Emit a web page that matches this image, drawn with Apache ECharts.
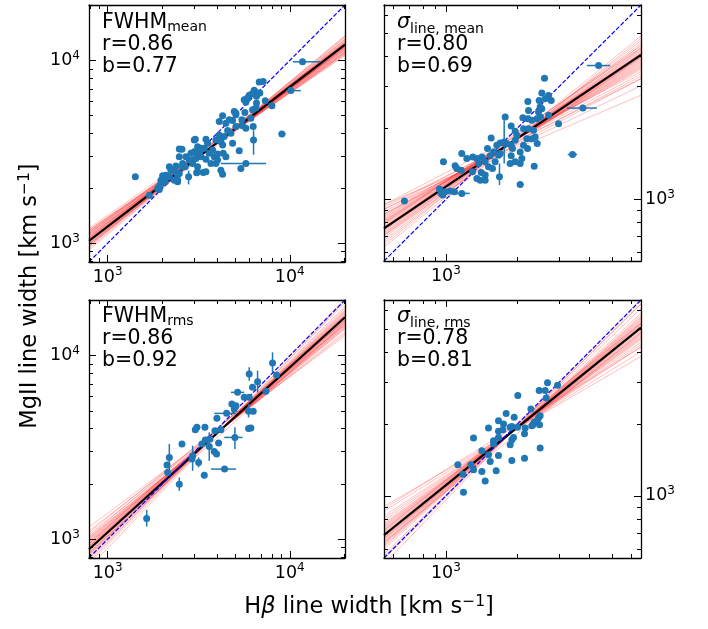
<!DOCTYPE html>
<html><head><meta charset="utf-8">
<script src="https://cdn.jsdelivr.net/npm/echarts@6.0.0/dist/echarts.min.js"></script>
<style>html,body{margin:0;padding:0;background:#fff}#c{width:708px;height:629px}</style>
</head><body><div id="c"></div><script>
const FONT = 'DejaVu Sans';
// axis ranges and ticks
const fwhmRange = [790, 20100];
const sigmaRange = [550, 6600];
const fwhmMajor = [1000, 10000];
const fwhmMinor = [800, 900, 2000, 3000, 4000, 5000, 6000, 7000, 8000, 9000, 20000];
const sigmaMajor = [1000];
const sigmaMinor = [600, 700, 800, 900, 2000, 3000, 4000, 5000, 6000];

// panel labels
const panelMain = ['FWHM', 'σ', 'FWHM', 'σ'];
const panelSub = ['mean', 'line, mean', 'rms', 'line, rms'];
const rValues = ['0.86', '0.80', '0.86', '0.78'];
const bValues = ['0.77', '0.69', '0.92', '0.81'];

// ---- FWHM mean (Hb x, MgII y)
const fwhmMeanHb = [11745,10136,9046,6794,7145,6378,5988,6194,6568,5622,5863,7976,7328,6851,6246,6514,5670,4955,5061,4277,
 4853,4460,6115,6299,5741,5505,6325,5061,4556,4753,4368,4100,3930,4187,4277,4853,3465,3539,3028,2474,
 2559,2867,2990,3184,3252,3393,3054,2807,2691,2928,2474,2580,2668,3769,3614,3849,4014,3691,4313,4460,
 5278,5741,5390,3930,4187,4277,3350,3080,2783,2474,2422,2323,2227,2181,2090,2004,1963,2073,1938,1905,
 1921,1694,1419,2371,2351,3118,3211,4100,4653,5061,5460,6655,5741,6568,2990,3252,4014,3465,2867,3118,
 3465,3118,2580,2422,2090,2004,1882,2181,2422];
const fwhmMeanMg = [9831,6838,3965,7629,7661,6866,6444,6554,6363,6100,6229,5653,6024,6637,5375,5489,5196,5262,5044,4981,
 4695,4539,4836,4351,4260,4388,3676,4351,4137,3999,3832,3915,3676,3598,3450,3524,3708,3524,3708,3278,
 3264,3103,3170,3170,2975,3306,2913,2852,2975,2734,2975,2734,2621,3237,3103,2975,3077,2734,3103,2975,
 3209,2734,2566,2734,2512,2389,2439,2429,2309,2409,2168,2213,2512,2621,2309,2339,2213,2168,2078,2017,
 1967,1830,2309,2643,2460,3377,3039,4636,4735,5152,4735,6637,5898,5848,3676,3306,2852,2877,2852,2621,
 2460,2460,2621,2359,2359,2261,1992,2309,2213];
const fwhmMeanXErr = [[10400,14800,9831],[9530,11500,6838],[8700,9500,3965],[4187,7400,2734],[2380,2580,3278]]; // [lo, hi, y]
const fwhmMeanYErr = [[6325,3050,4150],[5390,2460,2680],[2783,2100,2500]]; // [x, lo, hi]
const fwhmMeanFit = [1030, 12200];
const fwhmMeanSamples = [[918,13690],[939,13380],[961,13070],[984,12775],[1006,12480],[1054,11920],[1079,11650],[1104,11390],
 [1129,11130],[1156,10870],[1183,11130],[1210,11390],[1079,12480],[984,11920],[1129,12200],[1030,13070],[1104,11000],
 [961,13530],[1156,11650],[1183,10630],[1042,12040],[1018,12370],[1066,11720],[995,12620],
 [1066,11786],[995,12628],[1091,11518],[972,12922],[1117,11255],[1142,10999],[1030,12200],[1169,10748],[1054,12200],[1030,11920]];

// ---- sigma mean
const sigMeanHb = [4379,2596,2530,2700,2210,2466,2770,2225,2489,2530,2700,3763,2106,2210,2297,2412,2497,1775,2974,1881,
 2120,2225,2335,1955,1550,1691,1735,1881,1804,1955,1758,2419,2203,2086,2052,1955,1881,1863,1496,1298,
 1350,1417,1463,1372,1511,1570,1680,1408,1463,1350,1394,1463,1294,1167,1225,1094,1112,1160,977,940,
 955,993,1042,1087,1167,971,2052,2350,3405,670,1638,1586,1665,1987,2120,2297,2189,2372,1905,2052,
 1691,1611,1536,2614,2451];
const sigMeanMg = [3667,3245,2806,2744,2589,2614,2614,2373,2450,2412,2261,2427,2210,2189,2154,2189,2225,2225,2086,2039,
 1987,1987,1955,1937,1816,1730,1730,1691,1719,1775,1747,1719,1638,1487,1417,1440,1526,1417,1638,1511,
 1487,1511,1440,1417,1372,1350,1245,1299,1266,1225,1205,1205,1307,1561,1487,1385,1350,1328,1440,1106,
 1060,1077,1084,1077,1060,1043,1156,1381,1546,984,1691,1586,1535,1863,1691,1804,1804,1833,1638,1586,
 1561,1440,1526,2657,2335];
const sigMeanXErr = [[3912,4901,3667],[3223,4309,2427],[3250,3560,1546],[1195,1350,1487],[1112,1260,1060],[1990,2120,1156],[2520,2680,3245]];
const sigMeanYErr = [[1758,1417,2154],[1680,1150,1417]];
const sigMeanFit = [755, 4067];
const sigMeanSamples = [[628,4778],[658,4670],[673,4563],[689,4459],[705,4358],[721,4259],[738,4162],[773,3974],[791,3884],
 [809,3796],[828,3709],[847,3625],[867,3542],[908,3383],[950,3461],[887,3306],[643,4890],[755,4459],[809,4067],[705,3974],
 [791,4358],[929,3230],[950,2750],[908,3015],[867,3230],[764,4010],[746,4120],
 [782,3929],[729,4210],[800,3840],[713,4308],[818,3752],[837,3667],[755,4067],[857,3583],[764,4020],[746,4114]];

// ---- FWHM rms
const fwhmRmsHb = [8040,8458,5988,6655,6246,7393,5168,5622,5988,4812,5061,4955,4498,3981,5937,6299,5937,6115,4997,4187,
 3881,3421,3028,3092,3644,3436,3293,2928,2559,4066,3614,3848,3963,2903,3158,2181,2118,2135,3393,4385,2474,1638];
const fwhmRmsMg = [9125,7847,7947,7218,6722,6392,6312,5929,5929,5450,5339,5119,4848,4553,4971,4971,4016,4033,3585,3949,
 3899,4067,3949,4067,3511,3467,3298,2849,3298,3340,3203,3008,2909,2732,2620,2790,2534,2310,2234,2410,1995,1297];
const fwhmRmsXErr = [[4753,5622,6312],[3848,5061,4848],[4368,5505,3585],[3691,5061,2410]];
const fwhmRmsYErr = [[8040,8116,10430],[5988,7308,8642],[6655,6312,8285],[5937,4611,5450],[4997,3097,4067],[2928,2359,3231],
 [2559,3200,3400],[3614,2675,3819],[3158,2460,2790],[2181,2359,3298],[3393,2150,2330],[2474,1835,2170],[1638,1172,1446]];
const fwhmRmsFit = [882, 16190];
const fwhmRmsSamples = [[700,19920],[734,19465],[768,18590],[786,18165],[804,17750],[823,17350],[842,16950],[862,16570],
 [903,15820],[924,15460],[945,15110],[967,14765],[990,14430],[1013,14100],[1060,13470],[1110,13160],[1163,12860],
 [945,16570],[842,15110],[1036,15460],[751,20380],[1085,14765],[872,16380],[892,16000],[913,15640],
 [913,15640],[852,16760],[934,15290],[832,17140],[956,14940],[978,14600],[882,16190],[1001,14270],[813,17540],[1024,13940]];

// ---- sigma rms
const sigRmsHb = [2673,2945,2466,2614,2006,2639,2276,1792,1936,1664,1747,1893,1863,2000,2489,2451,2412,2350,2320,2474,
 2297,2154,1735,1664,1511,1307,1664,1586,1924,1893,2140,1863,1417,1586,2140,2489,1511,1664,1893,1536,
 1417,1274,1179,1307,1123,1463,1627,1186];
const sigRmsMg = [2972,2905,2759,2759,2629,2570,2311,2210,2133,2064,2000,1954,1936,1936,2167,2118,2064,2032,1987,1987,
 1967,1923,1893,1863,1923,1746,1757,1702,1757,1718,1821,1637,1545,1648,1439,1585,1486,1476,1407,1394,
 1265,1349,1233,1286,1349,1156,1273,1036];
const sigRmsXErr = [];
const sigRmsYErr = [[2140,1400,1480],[1893,1370,1445]];
const sigRmsFit = [686, 5055];
const sigRmsSamples = [[520,6664],[545,6364],[571,6078],[598,5804],[611,5672],[626,5543],[640,5416],[655,5293],[670,5173],
 [702,4940],[718,4828],[735,4718],[752,4610],[770,4506],[788,4403],[825,4205],[864,4015],[904,3835],[718,5293],
 [640,4828],[884,4205],[558,6364],[678,5110],[694,4998],[662,5230],
 [710,4884],[663,5232],[727,4773],[647,5353],[744,4663],[632,5476],[686,5055],[761,4558],[618,5603],[806,4303]];

const panels = [
  {hb: fwhmMeanHb, mg: fwhmMeanMg, xe: fwhmMeanXErr, ye: fwhmMeanYErr, fit: fwhmMeanFit, samples: fwhmMeanSamples,
   range: fwhmRange, major: fwhmMajor, minor: fwhmMinor, labelSide: 'left',
   grid: {left: 89, top: 5, width: 256, height: 257}, text: [102, 23]},
  {hb: sigMeanHb, mg: sigMeanMg, xe: sigMeanXErr, ye: sigMeanYErr, fit: sigMeanFit, samples: sigMeanSamples,
   range: sigmaRange, major: sigmaMajor, minor: sigmaMinor, labelSide: 'right',
   grid: {left: 384, top: 5, width: 257, height: 256}, text: [397, 23]},
  {hb: fwhmRmsHb, mg: fwhmRmsMg, xe: fwhmRmsXErr, ye: fwhmRmsYErr, fit: fwhmRmsFit, samples: fwhmRmsSamples,
   range: fwhmRange, major: fwhmMajor, minor: fwhmMinor, labelSide: 'left',
   grid: {left: 89, top: 300, width: 256, height: 258}, text: [102, 317]},
  {hb: sigRmsHb, mg: sigRmsMg, xe: sigRmsXErr, ye: sigRmsYErr, fit: sigRmsFit, samples: sigRmsSamples,
   range: sigmaRange, major: sigmaMajor, minor: sigmaMinor, labelSide: 'right',
   grid: {left: 384, top: 300, width: 257, height: 258}, text: [397, 317]}
];

const labelRich = {
  b: {fontFamily: FONT, fontSize: 17.5, lineHeight: 22, color: '#000', verticalAlign: 'middle'},
  p: {fontFamily: FONT, fontSize: 12, lineHeight: 12, color: '#000', verticalAlign: 'middle', padding: [0, 0, 9.5, 0]}
};
function makeAxis(g, range, vals, pos, isMajor, showLabel, margin) {
  return {
    type: 'log', logBase: 10, gridIndex: g, min: range[0], max: range[1], position: pos,
    axisLine: {show: isMajor, onZero: false, lineStyle: {color: '#000', width: 1.3}},
    axisTick: {show: true, inside: true, length: isMajor ? 7 : 4, customValues: vals, lineStyle: {color: '#000', width: 1}},
    axisLabel: {show: showLabel, customValues: vals, margin: margin,
      formatter: v => '{b|10}{p|' + Math.round(Math.log10(v)) + '}', rich: labelRich},
    splitLine: {show: false}, minorTick: {show: false}, minorSplitLine: {show: false},
    axisPointer: {show: false}, silent: true, z: 10
  };
}

const grids = [], xAxes = [], yAxes = [], series = [], graphics = [];
panels.forEach((P, g) => {
  grids.push(Object.assign({containLabel: false}, P.grid));
  const other = P.labelSide === 'left' ? 'right' : 'left';
  xAxes.push(makeAxis(g, P.range, P.major, 'bottom', true, true, 4));
  xAxes.push(makeAxis(g, P.range, P.minor, 'bottom', false, false, 4));
  xAxes.push(makeAxis(g, P.range, P.major, 'top', true, false, 4));
  xAxes.push(makeAxis(g, P.range, P.minor, 'top', false, false, 4));
  yAxes.push(makeAxis(g, P.range, P.major, P.labelSide, true, true, P.labelSide === 'left' ? 9 : 4));
  yAxes.push(makeAxis(g, P.range, P.minor, P.labelSide, false, false, 4));
  yAxes.push(makeAxis(g, P.range, P.major, other, true, false, 4));
  yAxes.push(makeAxis(g, P.range, P.minor, other, false, false, 4));
  const xi = g * 4, yi = g * 4;
  const lo = P.range[0], hi = P.range[1];
  P.samples.forEach(s => {
    series.push({type: 'line', xAxisIndex: xi, yAxisIndex: yi, data: [[lo, s[0]], [hi, s[1]]],
      showSymbol: false, silent: true, animation: false, clip: true, z: 1,
      lineStyle: {color: 'rgba(255,0,0,0.25)', width: 1}});
  });
  series.push({type: 'line', xAxisIndex: xi, yAxisIndex: yi, data: [[lo, P.fit[0]], [hi, P.fit[1]]],
    showSymbol: false, silent: true, animation: false, clip: true, z: 2,
    lineStyle: {color: '#000', width: 2.2}});
  series.push({type: 'line', xAxisIndex: xi, yAxisIndex: yi, data: [[lo, lo], [hi, hi]],
    showSymbol: false, silent: true, animation: false, clip: true, z: 3,
    lineStyle: {color: '#0000ff', width: 1.2, type: [4.4, 1.9]}});
  series.push({type: 'custom', xAxisIndex: xi, yAxisIndex: yi, data: P.xe, encode: {x: [0, 1], y: 2},
    silent: true, animation: false, z: 4,
    renderItem: (params, api) => {
      const a = api.coord([api.value(0), api.value(2)]);
      const b = api.coord([api.value(1), api.value(2)]);
      return {type: 'line', shape: {x1: a[0], y1: a[1], x2: b[0], y2: b[1]}, style: {stroke: '#1f77b4', lineWidth: 1.5}};
    }});
  series.push({type: 'custom', xAxisIndex: xi, yAxisIndex: yi, data: P.ye, encode: {x: 0, y: [1, 2]},
    silent: true, animation: false, z: 4,
    renderItem: (params, api) => {
      const a = api.coord([api.value(0), api.value(1)]);
      const b = api.coord([api.value(0), api.value(2)]);
      return {type: 'line', shape: {x1: a[0], y1: a[1], x2: b[0], y2: b[1]}, style: {stroke: '#1f77b4', lineWidth: 1.5}};
    }});
  series.push({type: 'scatter', xAxisIndex: xi, yAxisIndex: yi, data: P.hb.map((v, i) => [v, P.mg[i]]),
    symbol: 'circle', symbolSize: 7, silent: true, animation: false, z: 5,
    itemStyle: {color: '#1f77b4', opacity: 1}});

  // panel text
  const isSig = P.labelSide === 'right';
  const tx = P.text[0], ty = P.text[1];
  graphics.push({type: 'text', x: tx, y: ty, z: 20, style: {
    text: '{m|' + panelMain[g] + '}{s|' + panelSub[g] + '}',
    rich: {
      m: {fontFamily: FONT, fontSize: 20.5, lineHeight: 26, fontStyle: isSig ? 'italic' : 'normal', fill: '#000'},
      s: {fontFamily: FONT, fontSize: 14, lineHeight: 14, fill: '#000', padding: [isSig ? 12 : 8, 0, 0, 0]}
    },
    align: 'left', verticalAlign: 'middle'}});
  graphics.push({type: 'text', x: tx, y: ty + 22, z: 20, style: {text: 'r=' + rValues[g], font: '20.5px "DejaVu Sans"', fill: '#000', align: 'left', verticalAlign: 'middle'}});
  graphics.push({type: 'text', x: tx, y: ty + 44, z: 20, style: {text: 'b=' + bValues[g], font: '20.5px "DejaVu Sans"', fill: '#000', align: 'left', verticalAlign: 'middle'}});
});

const titleRich = {
  t: {fontFamily: FONT, fontSize: 22.5, lineHeight: 28, fill: '#000'},
  i: {fontFamily: FONT, fontSize: 22.5, lineHeight: 28, fontStyle: 'italic', fill: '#000'},
  u: {fontFamily: FONT, fontSize: 15.5, lineHeight: 15.5, fill: '#000', padding: [0, 0, 10.5, 0]}
};
graphics.push({type: 'text', x: 30, y: 296, rotation: Math.PI / 2, z: 20, style: {
  text: '{t|MgII line width [km s}{u|−1}{t|]}', rich: titleRich, align: 'center', verticalAlign: 'middle'}});
graphics.push({type: 'text', x: 369, y: 607, z: 20, style: {
  text: '{t|H}{i|β}{t| line width [km s}{u|−1}{t|]}', rich: titleRich, align: 'center', verticalAlign: 'middle'}});

const chart = echarts.init(document.getElementById('c'), null, {renderer: 'canvas'});
chart.setOption({
  backgroundColor: '#fff', animation: false,
  grid: grids, xAxis: xAxes, yAxis: yAxes, series: series, graphic: graphics
});
</script></body></html>
